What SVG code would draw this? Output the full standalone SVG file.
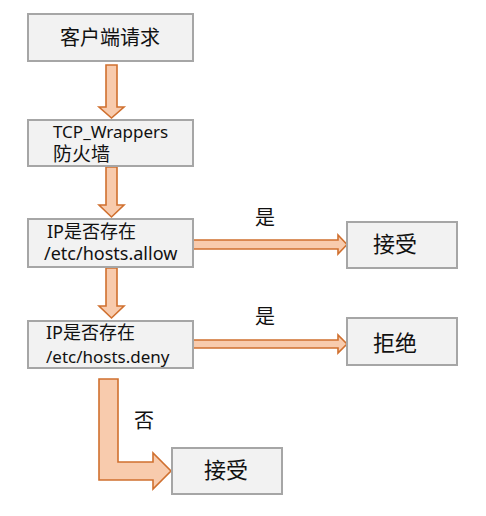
<svg xmlns="http://www.w3.org/2000/svg" width="486" height="516" viewBox="0 0 486 516">
<style>
.box{fill:#F2F2F2;stroke:#A6A6A6;stroke-width:2}
.arr{fill:#F8CBAD;stroke:#D0702F;stroke-width:1.6;stroke-linejoin:miter}
text{font-family:"Noto Sans","Noto Sans CJK SC",sans-serif;fill:#111}
</style>
<rect width="486" height="516" fill="#FFFFFF"/>
<g id="connectors">
<path class="arr" d="M106,65 L117,65 L117,107 L124,107 L111.5,118 L99,107 L106,107 Z"/>
<path class="arr" d="M106,167 L117,167 L117,205 L124,205 L111.5,217 L99,205 L106,205 Z"/>
<path class="arr" d="M106,268 L117,268 L117,306 L124,306 L111.5,318 L99,306 L106,306 Z"/>
<path class="arr" d="M193,240 L338,240 L338,235 L347,244.5 L338,254 L338,249 L193,249 Z"/>
<path class="arr" d="M193,340 L338,340 L338,335 L347,344 L338,353 L338,348 L193,348 Z"/>
<path class="arr" d="M99,379 L118,379 L118,462 L153,462 L153,453 L171,471 L153,489 L153,480 L99,480 Z"/>
<text x="265" y="225" font-size="20" text-anchor="middle">是</text>
<text x="265" y="324" font-size="20" text-anchor="middle">是</text>
<text x="144" y="428" font-size="20" text-anchor="middle">否</text>
</g>
<g id="n1">
<rect class="box" x="28" y="14" width="165" height="47"/>
<text x="110" y="45" font-size="20" text-anchor="middle">客户端请求</text>
</g>
<g id="n2">
<rect class="box" x="28" y="120" width="165" height="46"/>
<text x="53" y="138" font-size="17">TCP_Wrappers</text>
<text x="53" y="161" font-size="19">防火墙</text>
</g>
<g id="n3">
<rect class="box" x="28" y="219" width="165" height="48"/>
<text x="47" y="238" font-size="18">IP是否存在</text>
<text x="44" y="260" font-size="18">/etc/hosts.allow</text>
</g>
<g id="n4">
<rect class="box" x="347" y="222" width="110" height="46"/>
<text x="395" y="252" font-size="22" text-anchor="middle">接受</text>
</g>
<g id="n5">
<rect class="box" x="28" y="321" width="165" height="47"/>
<text x="46" y="339" font-size="18">IP是否存在</text>
<text x="46" y="363" font-size="17">/etc/hosts.deny</text>
</g>
<g id="n6">
<rect class="box" x="347" y="318" width="110" height="47"/>
<text x="395" y="351" font-size="22" text-anchor="middle">拒绝</text>
</g>
<g id="n7">
<rect class="box" x="172" y="448" width="110" height="46"/>
<text x="226" y="478" font-size="22" text-anchor="middle">接受</text>
</g>
</svg>
